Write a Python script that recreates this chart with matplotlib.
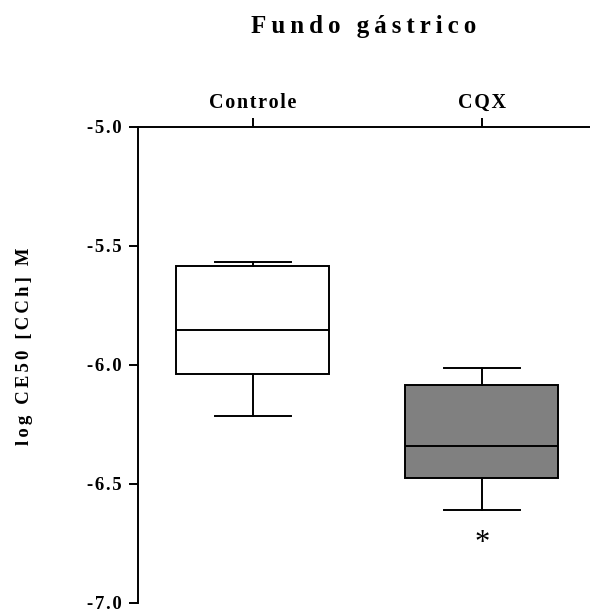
import matplotlib
matplotlib.use("Agg")
import matplotlib.pyplot as plt

# Box-plot summary per group (log EC50 of carbachol, M)
groups = ["Controle", "CQX"]
whisker_low = [-6.215, -6.61]
quart1 = [-6.04, -6.475]
medians = [-5.855, -6.34]
quart3 = [-5.585, -6.085]
whisker_high = [-5.57, -6.015]
box_colors = ["#ffffff", "#808080"]

y_ticks = [-5.0, -5.5, -6.0, -6.5, -7.0]
signif_group = "CQX"

THIN = "\u2009"       # ~0.2 em
SIXTH = "\u2006"      # ~1/6 em
HAIR = "\u200a"       # narrowest space


def tracked(s, gap=THIN):
    """Letter-spaced version of a label."""
    return gap.join(s)


plt.rcParams["font.family"] = ["Liberation Serif", "DejaVu Serif"]
plt.rcParams["font.weight"] = "bold"

fig = plt.figure(figsize=(5.9, 6.12), dpi=100)
ax = fig.add_axes([0.2347, 0.0152, 0.7653, 0.7781])

lw = 1.4
stats = [
    dict(label=g, whislo=wl, q1=a, med=m, q3=b, whishi=wh)
    for g, wl, a, m, b, wh in zip(groups, whisker_low, quart1, medians, quart3, whisker_high)
]
positions = list(range(1, len(groups) + 1))
bp = ax.bxp(
    stats,
    positions=positions,
    widths=0.668,
    capwidths=0.33,
    showfliers=False,
    patch_artist=True,
    boxprops=dict(linewidth=lw, edgecolor="black"),
    medianprops=dict(linewidth=lw, color="black"),
    whiskerprops=dict(linewidth=lw, color="black"),
    capprops=dict(linewidth=lw, color="black"),
)
for patch, c in zip(bp["boxes"], box_colors):
    patch.set_facecolor(c)

# significance marker below the lower whisker of the treated group
gi = groups.index(signif_group)
ax.annotate("*", xy=(positions[gi], whisker_low[gi]), xytext=(0, -24),
            textcoords="offset points", ha="center", va="center",
            fontsize=22, fontweight="normal")

ax.set_xlim(0.5, 2.473)
ax.set_ylim(-7.0, -5.0)

ax.xaxis.tick_top()
ax.set_xticks(positions)
ax.set_xticklabels([tracked(g, HAIR) for g in groups], fontsize=14.5, fontweight="bold")
ax.set_yticks(y_ticks)
ax.set_yticklabels([tracked(f"{v:.1f}", HAIR) for v in y_ticks], fontsize=13.5, fontweight="bold")
ax.tick_params(axis="x", direction="out", length=6.5, width=lw, pad=3.5)
ax.tick_params(axis="y", direction="out", length=6.5, width=lw, pad=5.5)

for side in ("right", "bottom"):
    ax.spines[side].set_visible(False)
for side in ("left", "top"):
    ax.spines[side].set_linewidth(lw)

fig.text(25 / 590, 1 - 346 / 612, tracked("log CE50 [CCh] M", SIXTH), rotation=90,
         ha="center", va="center", fontsize=13.5, fontweight="bold")
fig.text(364 / 590, 1 - 33 / 612, tracked("Fundo gástrico"), ha="center",
         va="baseline", fontsize=18, fontweight="bold")

fig.savefig("out.png", dpi=100)
